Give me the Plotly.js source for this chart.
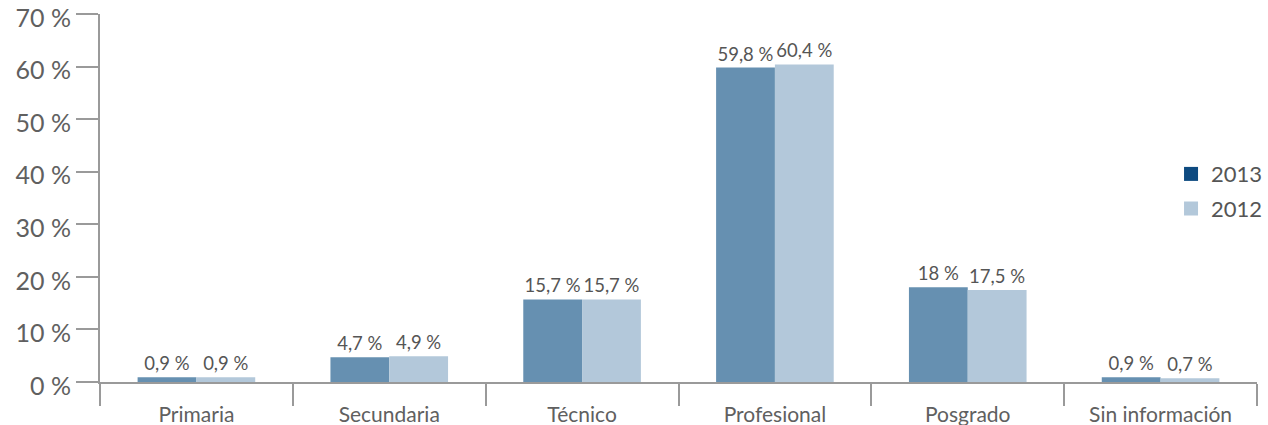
<!DOCTYPE html>
<html>
<head>
<meta charset="utf-8">
<script src="https://cdn.plot.ly/plotly-3.0.1.min.js"></script>
<style>
  html, body { margin: 0; padding: 0; background: #fff; }
  #chart { width: 1268px; height: 425px; }
</style>
</head>
<body>
<div id="chart"></div>
<script>
// Nivel educativo: distribución porcentual 2013 vs 2012
const categories = ['Primaria', 'Secundaria', 'Técnico', 'Profesional', 'Posgrado', 'Sin información'];
const values2013 = [0.9, 4.7, 15.7, 59.8, 18, 0.9];
const values2012 = [0.9, 4.9, 15.7, 60.4, 17.5, 0.7];
const yTickValues = [0, 10, 20, 30, 40, 50, 60, 70];
const yTickLabels = yTickValues.map(v => v + ' %');

const fmt = v => String(v).replace('.', ',') + ' %';

const FONT = 'Lato, "Open Sans", sans-serif';
const AXIS_GRAY = '#9a9a9a';
const TEXT_GRAY = '#606060';

const barCommon = {
  type: 'bar',
  x: categories,
  textposition: 'outside',
  cliponaxis: false,
  constraintext: 'none',
  textfont: { family: FONT, size: 18.5, color: '#555555' },
  showlegend: false,
  hoverinfo: 'x+y'
};

const traces = [
  Object.assign({}, barCommon, {
    name: '2013', y: values2013, text: values2013.map(fmt),
    marker: { color: '#6690b1' }
  }),
  Object.assign({}, barCommon, {
    name: '2012', y: values2012, text: values2012.map(fmt),
    marker: { color: '#b3c8da' }
  }),
  // legend entries
  { type: 'scatter', mode: 'markers', x: [categories[0]], y: [null], name: '2013',
    legendgroup: 'a', marker: { symbol: 'square', size: 14, color: '#0d4a80' }, showlegend: true },
  { type: 'scatter', mode: 'markers', x: [categories[0]], y: [null], name: '2012',
    legendgroup: 'b', marker: { symbol: 'square', size: 14, color: '#b3c8da' }, showlegend: true }
];

const layout = {
  width: 1268,
  height: 425,
  margin: { l: 100, r: 11, t: 14, b: 43, pad: 0, autoexpand: false },
  paper_bgcolor: '#ffffff',
  plot_bgcolor: '#ffffff',
  font: { family: FONT, color: TEXT_GRAY },
  barmode: 'group',
  bargap: 0.39,
  bargroupgap: 0,
  xaxis: {
    type: 'category',
    range: [-0.5, 5.5],
    showline: true,
    linecolor: AXIS_GRAY,
    linewidth: 2,
    ticks: 'outside',
    tickson: 'boundaries',
    ticklen: 22,
    tickwidth: 2,
    tickcolor: AXIS_GRAY,
    ticklabelstandoff: 13,
    tickfont: { family: FONT, size: 21, color: TEXT_GRAY },
    showgrid: false,
    zeroline: false,
    fixedrange: true
  },
  yaxis: {
    range: [0, 70],
    tickvals: yTickValues,
    ticktext: yTickLabels,
    ticklabeloverflow: 'allow',
    ticklabelshift: 4,
    showline: true,
    linecolor: AXIS_GRAY,
    linewidth: 2,
    ticks: 'outside',
    ticklen: 22,
    tickwidth: 2,
    tickcolor: AXIS_GRAY,
    tickfont: { family: FONT, size: 25, color: TEXT_GRAY },
    showgrid: false,
    zeroline: false,
    fixedrange: true
  },
  showlegend: true,
  legend: {
    x: 0.9257, xanchor: 'left',
    y: 0.622, yanchor: 'top',
    bgcolor: 'rgba(0,0,0,0)',
    font: { family: FONT, size: 22, color: '#555555' },
    itemwidth: 30,
    tracegroupgap: 3,
    traceorder: 'grouped'
  }
};

Plotly.newPlot('chart', traces, layout, { displayModeBar: false, staticPlot: true });
</script>
</body>
</html>
